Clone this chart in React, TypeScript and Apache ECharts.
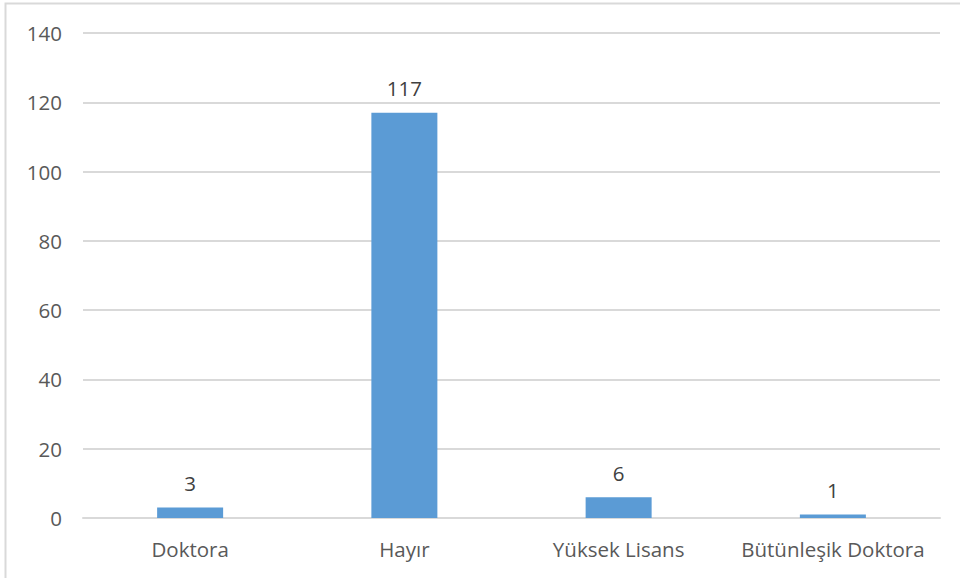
import React, { useEffect, useRef } from "react";
import * as echarts from "echarts";

const categories = ["Doktora", "Hayır", "Yüksek Lisans", "Bütünleşik Doktora"];
const values = [3, 117, 6, 1];
const yTicks = { min: 0, max: 140, interval: 20 };

export default function App() {
  const ref = useRef<HTMLDivElement>(null);
  useEffect(() => {
    if (!ref.current) return;
    const chart = echarts.init(ref.current, null, { renderer: "svg" });
    const font = "'Open Sans', sans-serif";
    chart.setOption({
      animation: false,
      backgroundColor: "#ffffff",
      graphic: [
        {
          type: "rect",
          shape: { x: 5.5, y: 3.5, width: 1200, height: 1200 },
          style: { fill: "none", stroke: "#d9d9d9", lineWidth: 2 },
          silent: true,
        },
      ],
      grid: { left: 83, right: 20, top: 33, bottom: 60, containLabel: false },
      xAxis: {
        type: "category",
        data: categories,
        axisLine: { show: true, lineStyle: { color: "#d9d9d9", width: 2 } },
        axisTick: { show: false },
        axisLabel: {
          color: "#595959",
          fontSize: 20.5,
          fontFamily: font,
          margin: 20,
          interval: 0,
          hideOverlap: false,
        },
      },
      yAxis: {
        type: "value",
        min: yTicks.min,
        max: yTicks.max,
        interval: yTicks.interval,
        axisLine: { show: false },
        axisTick: { show: false },
        splitLine: { lineStyle: { color: "#d9d9d9", width: 2 } },
        axisLabel: { color: "#595959", fontSize: 20.5, fontFamily: font, margin: 21 },
      },
      series: [
        {
          type: "bar",
          data: values,
          barWidth: 66,
          itemStyle: { color: "#5b9bd5" },
          label: {
            show: true,
            position: "top",
            distance: 14,
            color: "#404040",
            fontSize: 20.5,
            fontFamily: font,
          },
        },
      ],
    });
    return () => chart.dispose();
  }, []);
  return <div ref={ref} style={{ width: 960, height: 578, position: "absolute", left: 0, top: 0 }} />;
}
